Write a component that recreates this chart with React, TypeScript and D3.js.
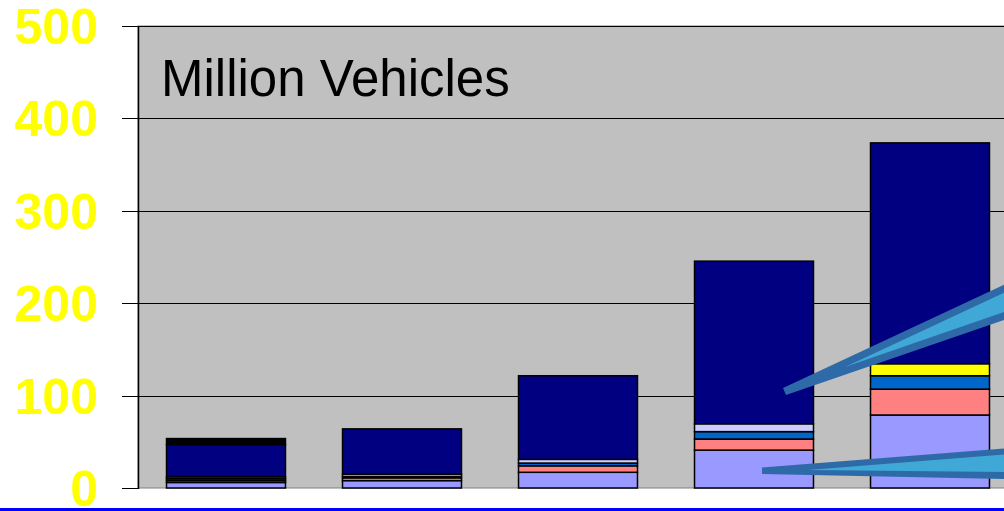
import React from "react";
import * as d3 from "d3";

const categories = ["P1", "P2", "P3", "P4", "P5"];
const seriesNames = ["lavender", "salmon", "blue", "pale", "yellow", "navy", "black"];
const lavender = [6, 8, 17, 41, 79];
const salmon = [2, 3, 7, 12, 28];
const blue = [2, 1.5, 3, 8, 14.5];
const pale = [2, 2.5, 4, 8.5, 0];
const yellow = [0, 0, 0, 0, 13];
const navy = [35, 49, 90.5, 176, 239];
const black = [6.5, 0, 0, 0, 0];
const seriesColors = ["#9999FF", "#FF8080", "#0066CC", "#CCCCFF", "#FFFF00", "#000080", "#000000"];
const yTicks = [0, 100, 200, 300, 400, 500];
const title = "Million Vehicles";

const W = 1004;
const H = 511;
const M = { left: 138, top: 26, right: 1018, bottom: 488 };

export default function App() {
  const seriesValues = [lavender, salmon, blue, pale, yellow, navy, black];
  const rows = categories.map((c, i) => {
    const r: any = { cat: c };
    seriesNames.forEach((n, k) => (r[n] = seriesValues[k][i]));
    return r;
  });
  const stacked = d3.stack<any>().keys(seriesNames)(rows);
  const x = d3
    .scaleBand<string>()
    .domain(categories)
    .range([M.left, M.right])
    .paddingInner(0.324)
    .paddingOuter(0.162);
  const y = d3.scaleLinear().domain([0, 500]).range([M.bottom, M.top]);

  return (
    <svg
      width={W}
      height={H}
      style={{ position: "absolute", left: 0, top: 0, display: "block" }}
      fontFamily="Arial, 'Liberation Sans', sans-serif"
    >
      <defs>
        <clipPath id="clip">
          <rect x={0} y={0} width={W} height={H} />
        </clipPath>
      </defs>
      <rect x={0} y={0} width={W} height={H} fill="#FFFFFF" />
      {/* plot area */}
      <rect
        x={M.left}
        y={M.top}
        width={M.right - M.left}
        height={M.bottom - M.top}
        fill="#C0C0C0"
        stroke="#808080"
        strokeWidth={1}
      />
      {/* gridlines and ticks */}
      {yTicks.map((t) => (
        <line
          key={"g" + t}
          x1={122}
          x2={t === 0 ? M.left : M.right}
          y1={Math.round(y(t)) + 0.5}
          y2={Math.round(y(t)) + 0.5}
          stroke="#000000"
          strokeWidth={1}
        />
      ))}
      <line x1={M.left + 0.5} x2={M.left + 0.5} y1={M.top} y2={M.bottom + 1} stroke="#000" strokeWidth={1.5} />
      {/* bars */}
      {stacked.map((s, k) =>
        s.map((d, i) => {
          const v = d[1] - d[0];
          if (v <= 0) return null;
          return (
            <rect
              key={k + "-" + i}
              x={x(categories[i])}
              y={y(d[1])}
              width={x.bandwidth()}
              height={y(d[0]) - y(d[1])}
              fill={seriesColors[k]}
              stroke="#000000"
              strokeWidth={1.5}
            />
          );
        })
      )}
      {/* y labels */}
      {yTicks.map((t) => (
        <text
          key={"t" + t}
          x={98}
          y={y(t) + 18}
          textAnchor="end"
          fontSize={50}
          fontWeight="bold"
          fill="#FFFF00"
        >
          {t}
        </text>
      ))}
      {/* title */}
      <text x={161} y={96} fontSize={51} fill="#000000">
        {title}
      </text>
      {/* callout wedges */}
      <g clipPath="url(#clip)">
        <polygon points="783,388 786,395 1010,318 1010,282" fill="#2E6AA8" />
        <polygon points="845,367 1010,290 1010,310" fill="#3FA8D6" />
        <polygon points="762,467.5 762,474 1010,479 1010,448" fill="#2E6AA8" />
        <polygon points="808,470 1010,454 1010,472" fill="#3FA8D6" />
      </g>
      {/* bottom blue rule */}
      <rect x={0} y={508} width={W} height={3} fill="#0000FF" />
    </svg>
  );
}
